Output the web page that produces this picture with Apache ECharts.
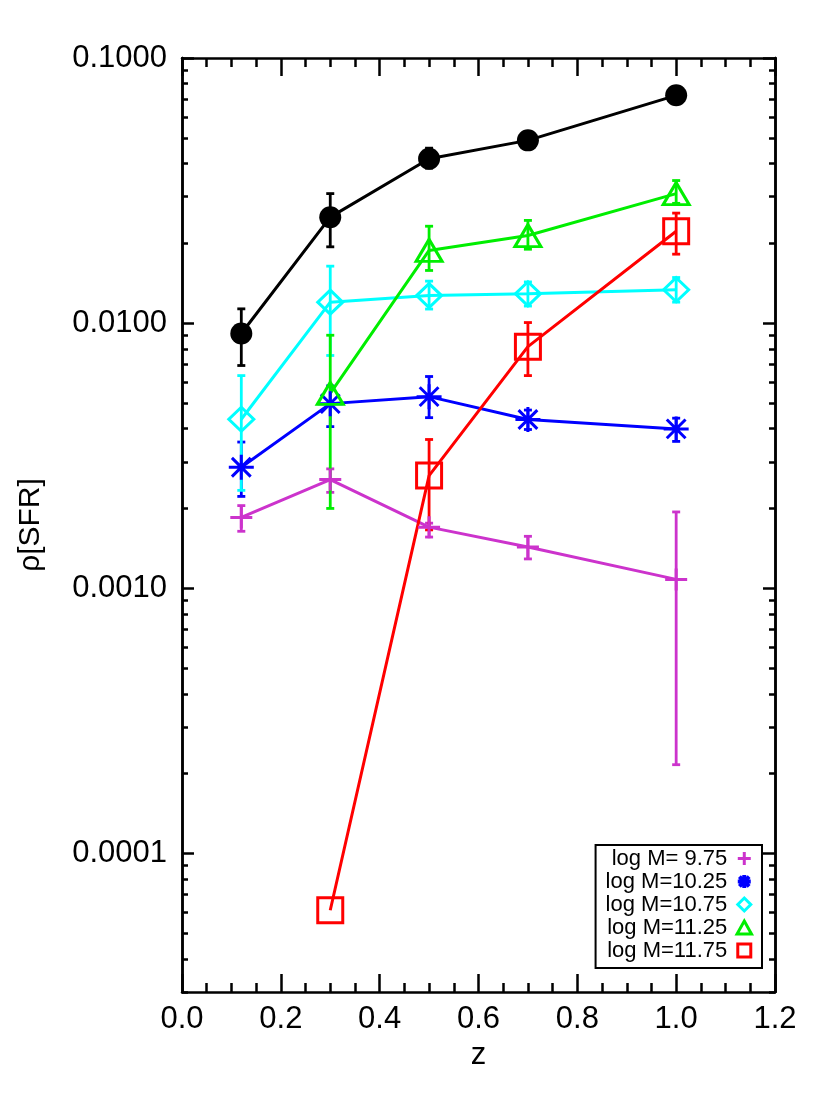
<!DOCTYPE html>
<html lang="en">
<head>
    <meta charset="UTF-8">
    <title>SFR density vs z</title>
    <script src="https://cdn.jsdelivr.net/npm/echarts@6/dist/echarts.min.js"></script>
    <style>
        html, body { margin: 0; padding: 0; background: #fff; }
        #chart { width: 830px; height: 1107px; }
    </style>
</head>
<body>
<div id="chart"></div>

<script>
    // redshift bins
    var zBins = [0.12, 0.3, 0.5, 0.7, 1.0];

    // all galaxies (black filled circles)
    var allVal = [0.00914, 0.0251, 0.0417, 0.0489, 0.0723];
    var allLo  = [0.00692, 0.0194, 0.0384, 0.0466, 0.0692];
    var allHi  = [0.01132, 0.0308, 0.0457, 0.0514, 0.0756];

    // log M = 9.75
    var m975Val = [0.00185, 0.00257, 0.00170, 0.00143, 0.00108];
    var m975Lo  = [0.00164, 0.00230, 0.00156, 0.00129, 0.000216];
    var m975Hi  = [0.00205, 0.00282, 0.00176, 0.00157, 0.00194];

    // log M = 10.25
    var m1025Val = [0.00286, 0.00497, 0.00528, 0.00433, 0.00399];
    var m1025Lo  = [0.00222, 0.00407, 0.00440, 0.00397, 0.00358];
    var m1025Hi  = [0.00356, 0.00580, 0.00629, 0.00470, 0.00438];

    // log M = 10.75
    var m1075Val = [0.00434, 0.0120, 0.0127, 0.0129, 0.01337];
    var m1075Lo  = [0.00234, 0.00755, 0.0113, 0.0116, 0.0120];
    var m1075Hi  = [0.00634, 0.0164, 0.0144, 0.0143, 0.01486];

    // log M = 11.25 (no point in the first bin)
    var m1125Val = [null, 0.00543, 0.0188, 0.0214, 0.0308];
    var m1125Lo  = [null, 0.0020, 0.0158, 0.0190, 0.0283];
    var m1125Hi  = [null, 0.0090, 0.0232, 0.0244, 0.0345];

    // log M = 11.75
    var m1175Val = [null, 0.000061, 0.00266, 0.00815, 0.0222];
    var m1175Lo  = [null, null, 0.00166, 0.00634, 0.0182];
    var m1175Hi  = [null, null, 0.00364, 0.01005, 0.0260];

    var legendNames = ['log M= 9.75', 'log M=10.25', 'log M=10.75', 'log M=11.25', 'log M=11.75'];

    // axis ticks
    var yMajorTicks = [0.0001, 0.001, 0.01, 0.1];
    var yMinorMult = [2, 3, 4, 5, 6, 7, 8, 9];
    var yMinorDecades = [0.00001, 0.0001, 0.001, 0.01];

    var yMinorTicks = [];
    yMinorDecades.forEach(function (d) {
        yMinorMult.forEach(function (m) { yMinorTicks.push(m * d); });
    });

    var FONT = 'Liberation Sans';
    var plusPath = 'path://M-10,0L10,0M0,-10L0,10';
    var starPath = 'path://M-10,0L10,0M0,-10L0,10M-7.5,-7.5L7.5,7.5M-7.5,7.5L7.5,-7.5';
    var diamondPath = 'path://M0,-10L10,0L0,10L-10,0Z';
    var trianglePath = 'path://M0,-10L10,8L-10,8Z';
    var squarePath = 'path://M-10,-10L10,-10L10,10L-10,10Z';

    function pairs(vals) {
        var out = [];
        vals.forEach(function (v, i) { if (v != null) out.push([zBins[i], v]); });
        return out;
    }

    function errData(lo, hi) {
        var out = [];
        lo.forEach(function (v, i) { if (v != null && hi[i] != null) out.push([zBins[i], v, hi[i]]); });
        return out;
    }

    function errRender(color) {
        return function (params, api) {
            var x = api.value(0);
            var p1 = api.coord([x, api.value(1)]);
            var p2 = api.coord([x, api.value(2)]);
            var w = 4;
            var st = {stroke: color, lineWidth: 2.8};
            return {
                type: 'group',
                children: [
                    {type: 'line', shape: {x1: p1[0], y1: p1[1], x2: p2[0], y2: p2[1]}, style: st},
                    {type: 'line', shape: {x1: p1[0] - w, y1: p1[1], x2: p1[0] + w, y2: p1[1]}, style: st},
                    {type: 'line', shape: {x1: p2[0] - w, y1: p2[1], x2: p2[0] + w, y2: p2[1]}, style: st}
                ]
            };
        };
    }

    function lineSeries(name, vals, color, symbol, size, filled) {
        return {
            name: name,
            type: 'line',
            data: pairs(vals),
            symbol: symbol,
            symbolSize: size,
            showAllSymbol: true,
            lineStyle: {color: color, width: 3},
            itemStyle: {
                color: filled ? color : 'transparent',
                borderColor: color,
                borderWidth: filled ? 0 : 3
            },
            emphasis: {disabled: true},
            z: 3
        };
    }

    function errSeries(lo, hi, color) {
        return {
            type: 'custom',
            data: errData(lo, hi),
            encode: {x: 0, y: [1, 2]},
            renderItem: errRender(color),
            silent: true,
            z: 3
        };
    }

    var cMag = '#cc33cc', cBlue = '#0000ff', cCyan = '#00ffff', cGreen = '#00ee00', cRed = '#ff0000';

    var chart = echarts.init(document.getElementById('chart'));

    function yAxisDef(pos, ticks, len, labels) {
        return {
            type: 'log',
            logBase: 10,
            min: 0.00003,
            max: 0.1,
            position: pos,
            name: labels ? 'ρ[SFR]' : '',
            nameLocation: 'middle',
            nameGap: 136,
            nameRotate: 90,
            nameTextStyle: {fontFamily: FONT, fontSize: 30, color: '#000'},
            axisLine: {show: true, onZero: false, lineStyle: {color: '#000', width: 2.5}},
            axisTick: {show: true, inside: true, length: len, customValues: ticks, lineStyle: {color: '#000', width: 2.5}},
            axisLabel: {
                show: labels,
                customValues: yMajorTicks,
                margin: 15,
                fontFamily: FONT,
                fontSize: 31,
                color: '#000',
                formatter: function (v) { return v.toFixed(4); }
            },
            splitLine: {show: false}
        };
    }

    function xAxisDef(pos, labels) {
        return {
            type: 'value',
            min: 0,
            max: 1.2,
            interval: 0.2,
            position: pos,
            name: labels ? 'z' : '',
            nameLocation: 'middle',
            nameGap: 45,
            nameTextStyle: {fontFamily: FONT, fontSize: 31, color: '#000'},
            axisLine: {show: true, onZero: false, lineStyle: {color: '#000', width: 2.5}},
            axisTick: {show: true, inside: true, length: 18, lineStyle: {color: '#000', width: 2.5}},
            minorTick: {show: true, splitNumber: 4, length: 9, lineStyle: {color: '#000', width: 2.5}},
            axisLabel: {
                show: labels,
                margin: 12,
                fontFamily: FONT,
                fontSize: 31,
                color: '#000',
                formatter: function (v) { return v.toFixed(1); }
            },
            splitLine: {show: false},
            minorSplitLine: {show: false}
        };
    }

    var option = {
        animation: false,
        backgroundColor: '#fff',
        grid: {left: 182, top: 58, right: 55, bottom: 115, containLabel: false},
        xAxis: [xAxisDef('bottom', true), xAxisDef('top', false)],
        yAxis: [
            yAxisDef('left', yMajorTicks, 12, true),
            yAxisDef('left', yMinorTicks, 6, false),
            yAxisDef('right', yMajorTicks, 12, false),
            yAxisDef('right', yMinorTicks, 6, false)
        ],
        legend: {
            orient: 'vertical',
            right: 68,
            top: 845,
            align: 'right',
            selectedMode: false,
            symbolKeepAspect: true,
            itemWidth: 24,
            itemHeight: 13,
            itemGap: 0,
            padding: [2, 9, 6, 10],
            borderColor: '#000',
            borderWidth: 2,
            backgroundColor: '#fff',
            textStyle: {fontFamily: FONT, fontSize: 22, lineHeight: 23, color: '#000'},
            data: [
                {name: legendNames[0], icon: plusPath, itemStyle: {color: 'transparent', borderColor: cMag, borderWidth: 3}},
                {name: legendNames[1], icon: starPath, itemStyle: {color: 'transparent', borderColor: cBlue, borderWidth: 4}},
                {name: legendNames[2], icon: diamondPath, itemStyle: {color: 'transparent', borderColor: cCyan, borderWidth: 3}},
                {name: legendNames[3], icon: trianglePath, itemStyle: {color: 'transparent', borderColor: cGreen, borderWidth: 3}},
                {name: legendNames[4], icon: squarePath, itemStyle: {color: 'transparent', borderColor: cRed, borderWidth: 3}}
            ]
        },
        series: [
            lineSeries(legendNames[0], m975Val, cMag, plusPath, 22, false),
            errSeries(m975Lo, m975Hi, cMag),
            lineSeries(legendNames[1], m1025Val, cBlue, starPath, 25, false),
            errSeries(m1025Lo, m1025Hi, cBlue),
            lineSeries(legendNames[2], m1075Val, cCyan, 'diamond', [25, 24], false),
            errSeries(m1075Lo, m1075Hi, cCyan),
            lineSeries(legendNames[3], m1125Val, cGreen, 'triangle', [26, 22], false),
            errSeries(m1125Lo, m1125Hi, cGreen),
            lineSeries(legendNames[4], m1175Val, cRed, 'rect', 25, false),
            errSeries(m1175Lo, m1175Hi, cRed),
            lineSeries('all', allVal, '#000', 'circle', 22, true),
            errSeries(allLo, allHi, '#000')
        ]
    };

    chart.setOption(option);
</script>
</body>
</html>
